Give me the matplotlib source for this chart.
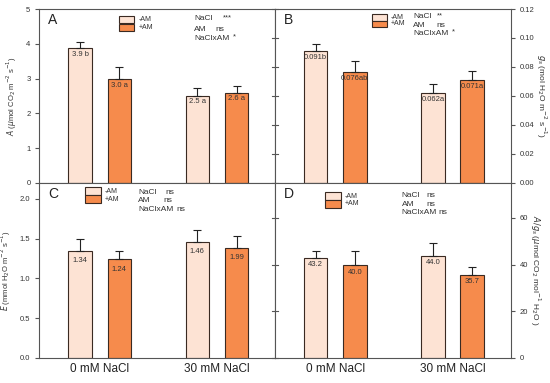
import matplotlib.pyplot as plt
import numpy as np

groups = ['0 mM NaCl', '30 mM NaCl']

# panel A: net photosynthesis
A_minus = [3.87, 2.51]
A_plus = [2.99, 2.60]
A_minus_err = [0.17, 0.21]
A_plus_err = [0.33, 0.19]
A_lab_minus = ['3.9 b', '2.5 a']
A_lab_plus = ['3.0 a', '2.6 a']

# panel B: stomatal conductance
B_minus = [0.0912, 0.0621]
B_plus = [0.0766, 0.0708]
B_minus_err = [0.0044, 0.0060]
B_plus_err = [0.0073, 0.0064]
B_lab_minus = ['0.091b', '0.062a']
B_lab_plus = ['0.076ab', '0.071a']

# panel C: transpiration
C_minus = [1.345, 1.458]
C_plus = [1.24, 1.386]
C_minus_err = [0.145, 0.15]
C_plus_err = [0.11, 0.15]
C_lab_minus = ['1.34', '1.46']
C_lab_plus = ['1.24', '1.99']

# panel D: WUE
D_minus = [43.0, 43.7]
D_plus = [39.7, 35.6]
D_minus_err = [3.0, 5.6]
D_plus_err = [6.2, 3.3]
D_lab_minus = ['43.2', '44.0']
D_lab_plus = ['40.0', '35.7']

c_minus = '#fde3d4'
c_plus = '#f68b4c'
edge = '#3a2a22'
frame = '#555555'
txt = '#333333'

plt.rcParams['font.family'] = 'Liberation Sans'

fig = plt.figure(figsize=(5.5, 3.83), dpi=100)
L, M, R = 0.0718, 0.5, 0.9285
T, H, B = 0.9765, 0.5222, 0.066
axA = fig.add_axes([L, H, M - L, T - H])
axB = fig.add_axes([M, H, R - M, T - H])
axC = fig.add_axes([L, B, M - L, H - B])
axD = fig.add_axes([M, B, R - M, H - B])

x = np.arange(len(groups))
off = 0.167
w = 0.2


def panel(ax, mv, pv, me, pe, lm, lp, ylim, ticks, fmt, letter, stats, right, ylabel,
          lab_dy, box, stat_x, stat_y, star_x):
    ax.bar(x - off, mv, w, color=c_minus, edgecolor=edge, linewidth=0.8, zorder=2)
    ax.bar(x + off, pv, w, color=c_plus, edgecolor=edge, linewidth=0.8, zorder=2)
    ax.errorbar(x - off, mv, yerr=[np.zeros(2), me], fmt='none', ecolor='#222222',
                elinewidth=0.8, capsize=3, capthick=0.8, zorder=3)
    ax.errorbar(x + off, pv, yerr=[np.zeros(2), pe], fmt='none', ecolor='#222222',
                elinewidth=0.8, capsize=3, capthick=0.8, zorder=3)
    for i in range(2):
        ax.annotate(lm[i], (x[i] - off, mv[i]), xytext=(0, -lab_dy), textcoords='offset points',
                    ha='center', va='center', fontsize=5.5, color=txt, zorder=4)
        ax.annotate(lp[i], (x[i] + off, pv[i]), xytext=(0, -lab_dy), textcoords='offset points',
                    ha='center', va='center', fontsize=5.5, color=txt, zorder=4)
    ax.set_xlim(-0.513, 1.495)
    ax.set_ylim(0, ylim)
    ax.set_yticks(ticks)
    ax.set_yticklabels([fmt.format(t) for t in ticks])
    for s in ax.spines.values():
        s.set_color(frame)
        s.set_linewidth(0.8)
    ax.tick_params(axis='x', length=0)
    ax.tick_params(axis='y', labelsize=5.5, colors=frame, labelcolor=txt, width=0.8, length=3)
    if right:
        ax.yaxis.tick_right()
        ax.yaxis.set_label_position('right')
        ax.set_ylabel(ylabel, fontsize=6, rotation=-90, labelpad=10, color=txt)
        # ticks crossing the middle line
        for t in ticks:
            ax.plot([-0.011, 0.011], [t, t], transform=ax.get_yaxis_transform(), color=frame,
                    linewidth=0.8, clip_on=False, zorder=5)
    else:
        ax.set_ylabel(ylabel, fontsize=5.5, labelpad=5, color=txt)
    ax.text(0.036, 0.937, letter, transform=ax.transAxes, fontsize=10, va='center', ha='left', color='#222222')
    # legend boxes
    bx, by0, by1, bw, bh = box
    ax.add_patch(plt.Rectangle((bx, by0), bw, bh, transform=ax.transAxes,
                               facecolor=c_minus, edgecolor=edge, linewidth=0.8, clip_on=False))
    ax.add_patch(plt.Rectangle((bx, by1), bw, bh, transform=ax.transAxes,
                               facecolor=c_plus, edgecolor=edge, linewidth=0.8, clip_on=False))
    ax.text(bx + bw + 0.018, by0 + bh / 2, '-AM', transform=ax.transAxes, fontsize=5, va='center', color=txt)
    ax.text(bx + bw + 0.018, by1 + bh / 2, '+AM', transform=ax.transAxes, fontsize=5, va='center', color=txt)
    for name, s, y, sx in zip(['NaCl', 'AM', 'NaClxAM'], stats, stat_y, star_x):
        ax.text(stat_x, y, name, transform=ax.transAxes, fontsize=6, va='center', color=txt)
        dy = 0.006 if s.startswith('*') else 0
        ax.text(sx, y + dy, s, transform=ax.transAxes, fontsize=6 if s == 'ns' else 5.5,
                va='center', color=txt)


panel(axA, A_minus, A_plus, A_minus_err, A_plus_err, A_lab_minus, A_lab_plus, 5,
      [0, 1, 2, 3, 4, 5], '{:g}', 'A', ['***', 'ns', '*'], False,
      r'$A$ ($\mu$mol CO$_2$ m$^{-2}$ s$^{-1}$)', 4.5,
      (0.338, 0.921, 0.874, 0.064, 0.039), 0.656, [0.943, 0.885, 0.832], [0.779, 0.745, 0.82])
panel(axB, B_minus, B_plus, B_minus_err, B_plus_err, B_lab_minus, B_lab_plus, 0.12,
      [0, 0.02, 0.04, 0.06, 0.08, 0.1, 0.12], '{:.2f}', 'B', ['**', 'ns', '*'], True,
      r'$g_s$ (mol H$_2$O m$^{-2}$ s$^{-1}$)', 4.5,
      (0.41, 0.933, 0.895, 0.064, 0.038), 0.587, [0.956, 0.904, 0.86], [0.687, 0.686, 0.75])
panel(axC, C_minus, C_plus, C_minus_err, C_plus_err, C_lab_minus, C_lab_plus, 2.2,
      [0, 0.5, 1.0, 1.5, 2.0], '{:.1f}', 'C', ['ns', 'ns', 'ns'], False,
      r'$E$ (mmol H$_2$O m$^{-2}$ s$^{-1}$)', 7.2,
      (0.193, 0.931, 0.885, 0.067, 0.046), 0.42, [0.947, 0.897, 0.849], [0.533, 0.525, 0.583])
panel(axD, D_minus, D_plus, D_minus_err, D_plus_err, D_lab_minus, D_lab_plus, 75,
      [0, 20, 40, 60], '{:g}', 'D', ['ns', 'ns', 'ns'], True,
      r'$A/g_s$ ($\mu$mol CO$_2$ mol$^{-1}$ H$_2$O )', 5,
      (0.212, 0.903, 0.859, 0.066, 0.044), 0.537, [0.927, 0.878, 0.83], [0.644, 0.644, 0.693])

for ax in (axA, axB):
    ax.set_xticks([])
for ax in (axC, axD):
    ax.set_xticks(x)
    ax.set_xticklabels(groups, fontsize=8.5, color='#222222')
    ax.tick_params(axis='x', pad=4)

fig.savefig('out.png', dpi=100)
